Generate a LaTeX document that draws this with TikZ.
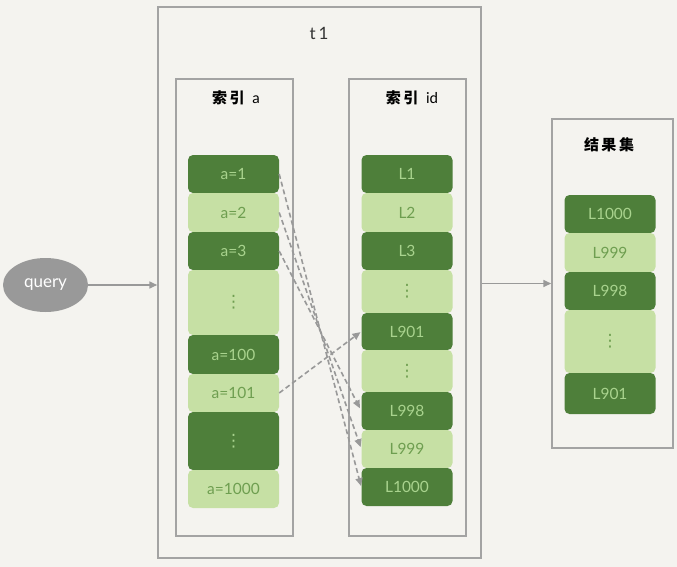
\documentclass[tikz,border=0pt]{standalone}
\usepackage{fontspec}
\setmainfont{Lato}
\newfontfamily\cjk{Noto Sans CJK SC}
\newfontfamily\symfont{DejaVu Sans}
\usetikzlibrary{arrows.meta,shapes.geometric}
\definecolor{bg}{HTML}{F4F3EF}
\definecolor{dkg}{HTML}{4E7F3A}
\definecolor{ltg}{HTML}{C6E0A4}
\definecolor{dktxt}{HTML}{A9D38E}
\definecolor{lttxt}{HTML}{6E9E50}
\definecolor{boxgray}{HTML}{A3A3A3}
\definecolor{arrgray}{HTML}{999999}
\tikzset{
  box/.style={draw=boxgray, line width=1.5pt, fill=none, inner sep=0pt},
  cellfont/.style={font=\fontsize{15.5}{17}\selectfont},
  celld/.style={fill=dkg, rounded corners=5pt, minimum width=91pt, inner sep=0pt,
     label={[text=dktxt, cellfont, inner sep=1pt]center:{#1}}},
  celll/.style={fill=ltg, rounded corners=5pt, minimum width=91pt, inner sep=0pt,
     label={[text=lttxt, cellfont, inner sep=1pt]center:{#1}}},
  conn/.style={draw=arrgray, line width=1.6pt, -{Triangle[length=8pt,width=7pt]}},
  dconn/.style={draw=arrgray, line width=1.6pt, dash pattern=on 5pt off 3pt, -{Triangle[length=8pt,width=7pt]}},
  ttl/.style={font=\cjk\bfseries\fontsize{15}{17}\selectfont, text=black},
}
\newcommand\mydots{{\symfont\fontsize{17}{19}\selectfont ⋮}}
\begin{document}
\begin{tikzpicture}[x=1pt,y=-1pt]
\fill[bg] (0,0) rectangle (677,567);
\useasboundingbox (0,0) rectangle (677,567);
% outer boxes
\node[box, minimum width=323pt, minimum height=551pt] (t1) at (319.5,282.5) {};
\node[box, minimum width=117pt, minimum height=457pt] (ia) at (234.5,307.5) {};
\node[box, minimum width=117pt, minimum height=457pt] (iid) at (407.5,307.5) {};
\node[box, minimum width=121pt, minimum height=329pt] (res) at (612.5,283.5) {};
% titles
\node[font=\fontsize{17}{19}\selectfont, text=black!80] (t1lbl) at (319,33) {t\,1};
\node[ttl] (ialbl) at (236,98) {索\,引\; \textit{\normalfont a}};
\node[ttl] (iidlbl) at (412,98) {索\,引\; \textit{\normalfont id}};
\node[ttl] (reslbl) at (609,145) {结\,果\,集};
% left column
\node[celld={a=1}, minimum height=38pt] (a1) at (233.5,174) {};
\node[celll={a=2}, minimum height=39pt] (a2) at (233.5,212.5) {};
\node[celld={a=3}, minimum height=38pt] (a3) at (233.5,251) {};
\node[celll={\mydots}, minimum height=65pt] (adots) at (233.5,302.5) {};
\node[celld={a=100}, minimum height=39pt] (a100) at (233.5,354.5) {};
\node[celll={a=101}, minimum height=38pt] (a101) at (233.5,393) {};
\node[celld={\mydots}, minimum height=58pt] (adots2) at (233.5,441) {};
\node[celll={a=1000}, minimum height=38pt] (a1000) at (233.5,489) {};
% right column
\node[celld={L1}, minimum height=38pt] (l1) at (407,174) {};
\node[celll={L2}, minimum height=39pt] (l2) at (407,212.5) {};
\node[celld={L3}, minimum height=38pt] (l3) at (407,251) {};
\node[celll={\mydots}, minimum height=43pt] (ldots) at (407,291.5) {};
\node[celld={L901}, minimum height=37pt] (l901) at (407,331.5) {};
\node[celll={\mydots}, minimum height=42pt] (ldots2) at (407,371) {};
\node[celld={L998}, minimum height=38pt] (l998) at (407,411) {};
\node[celll={L999}, minimum height=38pt] (l999) at (407,449) {};
\node[celld={L1000}, minimum height=38pt] (l1000) at (407,487) {};
% result column
\node[celld={L1000}, minimum height=38pt] (r1000) at (610,214) {};
\node[celll={L999}, minimum height=39pt] (r999) at (610,252.5) {};
\node[celld={L998}, minimum height=38pt] (r998) at (610,291) {};
\node[celll={\mydots}, minimum height=63pt] (rdots) at (610,341.5) {};
\node[celld={L901}, minimum height=41pt] (r901) at (610,393.5) {};
% query
\node[ellipse, fill=arrgray, minimum width=85pt, minimum height=54pt, inner sep=0pt, text=white, font=\fontsize{17}{19}\selectfont] (q) at (45.5,285) {query};
% connectors
\draw[conn] (q.east) -- (q.east -| t1.west);
\draw[conn] (res.west -| t1.east) -- (res.west);
\draw[dconn, shorten >=1pt] (a1.east) -- (l1000.west);
\draw[dconn, shorten >=2pt] (a2.east) -- (l999.west);
\draw[dconn, shorten >=3pt] (a3.east) -- (l998.west);
\draw[dconn, shorten >=1pt] (a101.east) -- (l901.west);
\end{tikzpicture}
\end{document}
